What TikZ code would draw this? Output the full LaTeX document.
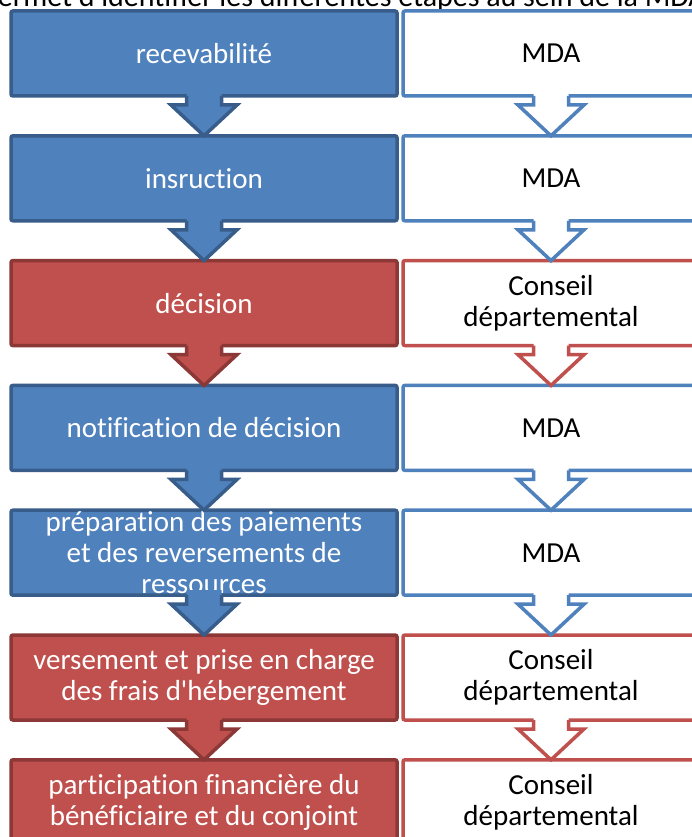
\documentclass[tikz,border=0pt]{standalone}
\usepackage{fontspec}
\setmainfont{Carlito}[Ligatures={TeXOff,NoCommon}]
\usetikzlibrary{calc}

\definecolor{bluefill}{HTML}{4F81BD}
\definecolor{blueline}{HTML}{385D8A}
\definecolor{redfill}{HTML}{C0504D}
\definecolor{redline}{HTML}{8C3836}

% block arrow hanging below one box and pointing at the next one
% #1 upper node, #2 lower node, #3 fill colour, #4 outline colour
\newcommand{\flowarrow}[4]{%
  \fill[#3] ($(#1.south)+(-17.5,-5)$) -- ($(#1.south)+(-17.5,9)$)
    -- ($(#1.south)+(-33,9)$) -- (#2.north) -- ($(#1.south)+(33,9)$)
    -- ($(#1.south)+(17.5,9)$) -- ($(#1.south)+(17.5,-5)$) -- cycle;
  \draw[#4, line width=3.5pt, line join=miter]
    ($(#1.south)+(-17.5,0)$) -- ($(#1.south)+(-17.5,9)$)
    -- ($(#1.south)+(-33,9)$) -- (#2.north) -- ($(#1.south)+(33,9)$)
    -- ($(#1.south)+(17.5,9)$) -- ($(#1.south)+(17.5,0)$);
}

\tikzset{
  box/.style={rectangle, rounded corners=2pt, line width=3.5pt,
    minimum height=85pt, inner sep=0pt, outer sep=0pt, align=center,
    font=\fontsize{29}{31}\selectfont},
  stepblue/.style={box, fill=bluefill, draw=blueline, text=white, minimum width=386pt},
  stepred/.style={box, fill=redfill, draw=redline, text=white, minimum width=386pt},
  whoblue/.style={box, fill=white, draw=bluefill, text=black, minimum width=296pt},
  whored/.style={box, fill=white, draw=redfill, text=black, minimum width=296pt},
}

\begin{document}
\begin{tikzpicture}[x=1pt, y=-1pt]
\useasboundingbox (0,0) rectangle (692,837);
\clip (0,0) rectangle (692,837);
\fill[white] (0,0) rectangle (692,837);

% sentence running above the chart
\node[anchor=base west, inner sep=0pt, font=\fontsize{30}{32}\selectfont] (intro) at (-18,6.5)
  {permet d'identifier les différentes étapes au sein de la MDA};

% left column: the steps
\node[stepblue] (s1) at (204, 53.5) {recevabilité};
\node[stepblue] (s2) at (204, 178.3) {insruction};
\node[stepred]  (s3) at (204, 303.1) {décision};
\node[stepblue] (s4) at (204, 427.9) {notification de décision};
\node[stepblue] (s5) at (204, 552.7) {préparation des paiements\\et des reversements de\\ressources};
\node[stepred]  (s6) at (204, 677.5) {versement et prise en charge\\des frais d'hébergement};
\node[stepred]  (s7) at (204, 802.3) {participation financière du\\bénéficiaire et du conjoint};

% right column: who is in charge
\node[whoblue] (w1) at (551, 53.5) {MDA};
\node[whoblue] (w2) at (551, 178.3) {MDA};
\node[whored]  (w3) at (551, 303.1) {Conseil\\départemental};
\node[whoblue] (w4) at (551, 427.9) {MDA};
\node[whoblue] (w5) at (551, 552.7) {MDA};
\node[whored]  (w6) at (551, 677.5) {Conseil\\départemental};
\node[whored]  (w7) at (551, 802.3) {Conseil\\départemental};

% arrows between the steps
\flowarrow{s1}{s2}{bluefill}{blueline}
\flowarrow{s2}{s3}{bluefill}{blueline}
\flowarrow{s3}{s4}{redfill}{redline}
\flowarrow{s4}{s5}{bluefill}{blueline}
\flowarrow{s5}{s6}{bluefill}{blueline}
\flowarrow{s6}{s7}{redfill}{redline}

\flowarrow{w1}{w2}{white}{bluefill}
\flowarrow{w2}{w3}{white}{bluefill}
\flowarrow{w3}{w4}{white}{redfill}
\flowarrow{w4}{w5}{white}{bluefill}
\flowarrow{w5}{w6}{white}{bluefill}
\flowarrow{w6}{w7}{white}{redfill}
\end{tikzpicture}
\end{document}
